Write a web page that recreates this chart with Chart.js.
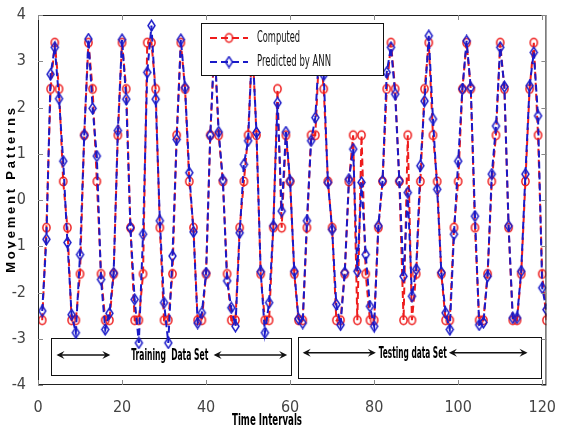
<!DOCTYPE html>
<html>
<head>
<meta charset="utf-8">
<script src="https://cdn.jsdelivr.net/npm/chart.js@4.4.0/dist/chart.umd.min.js"></script>
<style>
  html, body { margin: 0; padding: 0; background: #fff; }
</style>
</head>
<body>
<canvas id="movementChart" width="561" height="430"></canvas>
<script>
// time axis (one sample per interval)
const timeIntervals = Array.from({ length: 121 }, (_, i) => i + 1);

const computed = [
  -2.6, -0.6, 2.4, 3.4, 2.4, 0.4, -0.6, -2.6, -2.6, -1.6,
  1.4, 3.4, 2.4, 0.4, -1.6, -2.6, -2.6, -1.6, 1.4, 3.4,
  2.4, -0.6, -2.6, -2.6, -1.6, 3.4, 3.4, 2.4, -0.6, -2.6,
  -2.6, -1.6, 1.4, 3.4, 2.4, 0.4, -0.6, -2.6, -2.6, -1.6,
  1.4, 3.4, 1.4, 0.4, -1.6, -2.6, -2.6, -0.6, 0.4, 1.4,
  3.4, 1.4, -1.6, -2.6, -2.6, -0.6, 2.4, -0.6, 1.4, 0.4,
  -1.6, -2.6, -2.6, -0.6, 1.4, 1.4, 3.4, 2.4, 0.4, -0.6,
  -2.6, -2.6, -1.6, 0.4, 1.4, -2.6, 1.4, -1.6, -2.6, -2.6,
  -0.6, 0.4, 2.4, 3.4, 2.4, 0.4, -2.6, 1.4, -2.6, -1.6,
  0.4, 2.4, 3.4, 1.4, 0.4, -1.6, -2.6, -2.6, -0.6, 0.4,
  2.4, 3.4, 2.4, -0.6, -2.6, -2.6, -1.6, 0.4, 1.4, 3.4,
  2.4, -0.6, -2.6, -2.6, -1.6, 0.4, 2.4, 3.4, 1.4, -1.6, -2.6
];

const predictedByANN = [
  -2.4, -0.85, 2.72, 3.3, 2.19, 0.84, -0.92, -2.48, -2.87, -1.18,
  1.4, 3.48, 1.98, 0.95, -1.72, -2.8, -2.45, -1.58, 1.5, 3.47,
  2.18, -0.6, -2.15, -3.09, -0.74, 2.76, 3.77, 2.18, -0.45, -2.22,
  -3.09, -1.21, 1.31, 3.47, 2.43, 0.59, -0.69, -2.66, -2.44, -1.58,
  1.4, 3.4, 1.47, 0.43, -1.75, -2.33, -2.73, -0.71, 0.77, 1.28,
  3.4, 1.46, -1.55, -2.87, -2.22, -0.56, 2.1, -0.24, 1.47, 0.41,
  -1.54, -2.57, -2.66, -0.45, 1.28, 1.78, 3.4, 2.7, 0.38, -0.64,
  -2.26, -2.7, -1.57, 0.45, 1.1, -1.54, 0.38, -1.18, -2.3, -2.73,
  -0.56, 0.41, 2.76, 3.3, 2.29, 0.41, -1.65, 0.16, -2.08, -1.5,
  0.74, 2.14, 3.55, 1.75, 0.23, -1.57, -2.44, -2.8, -0.74, 0.84,
  2.4, 3.44, 2.43, -0.35, -2.7, -2.65, -1.65, 0.56, 1.6, 3.3,
  2.45, -0.56, -2.55, -2.55, -1.54, 0.56, 2.47, 3.19, 1.82, -1.9, -2.37
];

const xTicks = [0, 20, 40, 60, 80, 100, 120];
const yTicks = [-4, -3, -2, -1, 0, 1, 2, 3, 4];
const seriesNames = ['Computed', 'Predicted by ANN'];
const setNames = ['Training  Data Set', 'Testing data Set'];
const xTitle = 'Time Intervals';
const yTitle = 'Movement Patterns';

const RED = '#ee1c1c';
const BLUE = '#1a1ac8';
const NARROW = "'Liberation Sans Narrow', 'DejaVu Sans Condensed', sans-serif";

// hollow markers, a bit taller than wide like the original
function makeMarker(kind, color) {
  const c = document.createElement('canvas');
  c.width = 11;
  c.height = 13;
  const g = c.getContext('2d');
  g.strokeStyle = color;
  g.lineWidth = 1.5;
  g.beginPath();
  if (kind === 'circle') {
    g.ellipse(5.5, 6.5, 3.6, 4.2, 0, 0, Math.PI * 2);
  } else {
    g.moveTo(5.5, 1.2); g.lineTo(9, 6.5); g.lineTo(5.5, 11.8); g.lineTo(2, 6.5); g.closePath();
  }
  g.stroke();
  return c;
}
const redCircle = makeMarker('circle', RED);
const blueDiamond = makeMarker('diamond', BLUE);

// draws text squeezed/stretched to a given width
function fitText(ctx, text, x, y, width, font, align) {
  ctx.save();
  ctx.font = font;
  const w = ctx.measureText(text).width;
  ctx.translate(x, y);
  ctx.scale(width / w, 1);
  ctx.textAlign = align || 'left';
  ctx.textBaseline = 'middle';
  ctx.fillText(text, 0, 0);
  ctx.restore();
}

function arrow(ctx, x1, x2, y) {
  const h = 8, w = 4;
  ctx.beginPath();
  ctx.moveTo(x1 + 2, y);
  ctx.lineTo(x2 - 2, y);
  ctx.stroke();
  ctx.beginPath();
  ctx.moveTo(x1, y); ctx.lineTo(x1 + h, y - w); ctx.lineTo(x1 + h - 3, y); ctx.lineTo(x1 + h, y + w); ctx.closePath();
  ctx.fill();
  ctx.beginPath();
  ctx.moveTo(x2, y); ctx.lineTo(x2 - h, y - w); ctx.lineTo(x2 - h + 3, y); ctx.lineTo(x2 - h, y + w); ctx.closePath();
  ctx.fill();
}

const decor = {
  id: 'decor',
  beforeDatasetsDraw(chart) {
    const { ctx, scales: { x, y } } = chart;
    ctx.save();
    ctx.strokeStyle = '#111';
    ctx.fillStyle = '#111';
    ctx.lineWidth = 1;
    // data set boxes
    ctx.strokeRect(Math.round(x.getPixelForValue(3.2)) + 0.5, Math.round(y.getPixelForValue(-2.98)) + 0.5,
      Math.round(x.getPixelForValue(60.3) - x.getPixelForValue(3.2)), Math.round(y.getPixelForValue(-3.78) - y.getPixelForValue(-2.98)));
    ctx.strokeRect(Math.round(x.getPixelForValue(61.8)) + 0.5, Math.round(y.getPixelForValue(-2.96)) + 0.5,
      Math.round(x.getPixelForValue(119.6) - x.getPixelForValue(61.8)), Math.round(y.getPixelForValue(-3.85) - y.getPixelForValue(-2.96)));
    ctx.lineWidth = 1.5;
    const ya = y.getPixelForValue(-3.35);
    arrow(ctx, x.getPixelForValue(4.4), x.getPixelForValue(17.2), ya);
    arrow(ctx, x.getPixelForValue(41.8), x.getPixelForValue(59.3), ya);
    const yb = y.getPixelForValue(-3.3);
    arrow(ctx, x.getPixelForValue(63), x.getPixelForValue(80.4), yb);
    arrow(ctx, x.getPixelForValue(97.8), x.getPixelForValue(116.5), yb);
    ctx.fillStyle = '#000';
    fitText(ctx, setNames[0], x.getPixelForValue(22.2), ya + 1, 77, 'bold 16px ' + NARROW);
    fitText(ctx, setNames[1], x.getPixelForValue(81.1), yb + 1, 68, 'bold 16px ' + NARROW);
    ctx.restore();
  },
  afterDatasetsDraw(chart) {
    const { ctx, chartArea: a, scales: { x, y } } = chart;
    ctx.save();
    // frame and inward ticks
    ctx.strokeStyle = '#222';
    ctx.lineWidth = 1;
    ctx.strokeRect(a.left + 0.5, a.top + 0.5, a.right - a.left - 1, a.bottom - a.top - 1);
    ctx.strokeStyle = '#888';
    ctx.beginPath();
    xTicks.forEach(v => {
      const px = Math.round(x.getPixelForValue(v)) + 0.5;
      ctx.moveTo(px, a.bottom); ctx.lineTo(px, a.bottom - 5);
      ctx.moveTo(px, a.top); ctx.lineTo(px, a.top + 5);
    });
    yTicks.forEach(v => {
      const py = Math.round(y.getPixelForValue(v)) + 0.5;
      ctx.moveTo(a.left, py); ctx.lineTo(a.left + 5, py);
      ctx.moveTo(a.right, py); ctx.lineTo(a.right - 5, py);
    });
    ctx.stroke();

    // legend box
    const lx = 201, ly = 23, lw = 182, lh = 52;
    ctx.fillStyle = '#fff';
    ctx.fillRect(lx, ly, lw, lh);
    ctx.strokeStyle = '#111';
    ctx.strokeRect(lx + 0.5, ly + 0.5, lw, lh);
    const rows = [
      { y: 38, color: RED, marker: redCircle },
      { y: 62, color: BLUE, marker: blueDiamond }
    ];
    rows.forEach((row, i) => {
      ctx.strokeStyle = row.color;
      ctx.lineWidth = 2;
      ctx.setLineDash([7, 4]);
      ctx.beginPath();
      ctx.moveTo(210, row.y); ctx.lineTo(248, row.y);
      ctx.stroke();
      ctx.setLineDash([]);
      ctx.drawImage(row.marker, 229 - row.marker.width / 2, row.y - row.marker.height / 2);
      ctx.fillStyle = '#111';
      fitText(ctx, seriesNames[i], 257, row.y, i === 0 ? 43 : 74, '16px ' + NARROW);
    });

    // axis titles
    ctx.fillStyle = '#000';
    fitText(ctx, xTitle, 267, 421, 70, 'bold 16px ' + NARROW, 'center');
    ctx.translate(11, 189);
    ctx.rotate(-Math.PI / 2);
    ctx.font = "bold 13px 'Liberation Sans', Arial, sans-serif";
    ctx.letterSpacing = '2.8px';
    ctx.textAlign = 'center';
    ctx.textBaseline = 'middle';
    ctx.fillText(yTitle, 0, 0);
    ctx.restore();
  }
};

new Chart(document.getElementById('movementChart'), {
  type: 'line',
  data: {
    labels: timeIntervals,
    datasets: [
      {
        label: seriesNames[0],
        data: computed,
        borderColor: RED,
        borderWidth: 2,
        borderDash: [7, 4],
        pointStyle: redCircle,
        pointRadius: 4,
        tension: 0,
        order: 2
      },
      {
        label: seriesNames[1],
        data: predictedByANN,
        borderColor: BLUE,
        borderWidth: 2,
        borderDash: [7, 4],
        pointStyle: blueDiamond,
        pointRadius: 4.5,
        tension: 0,
        order: 1
      }
    ]
  },
  options: {
    responsive: false,
    devicePixelRatio: 1,
    animation: false,
    layout: { padding: { top: 15, right: 5, left: 0, bottom: 0 } },
    plugins: { legend: { display: false }, tooltip: { enabled: false } },
    scales: {
      x: {
        type: 'linear',
        min: 0,
        max: 121,
        grid: { display: false },
        border: { display: false },
        afterBuildTicks: s => { s.ticks = xTicks.map(v => ({ value: v })); },
        afterFit: s => { s.height = 45; },
        ticks: { color: '#444', padding: 5, maxRotation: 0, autoSkip: false, font: { family: NARROW, size: 16 } }
      },
      y: {
        min: -4,
        max: 4,
        grid: { display: false },
        border: { display: false },
        afterBuildTicks: s => { s.ticks = yTicks.map(v => ({ value: v })); },
        afterFit: s => { s.width = 38; },
        ticks: { color: '#444', padding: 4, font: { family: NARROW, size: 16 } }
      }
    }
  },
  plugins: [decor]
});
</script>
</body>
</html>
